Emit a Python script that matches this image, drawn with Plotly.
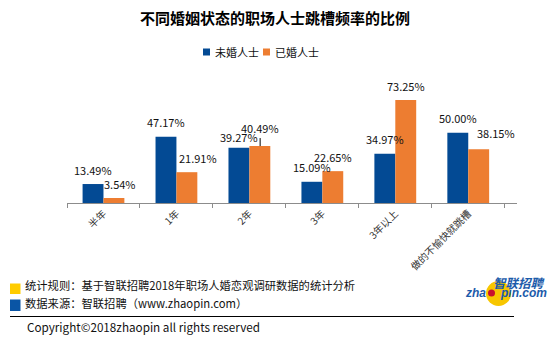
import plotly.graph_objects as go

# Data
categories = ["半年", "1年", "2年", "3年", "3年以上", "做的不愉快就跳槽"]
unmarried = [13.49, 47.17, 39.27, 15.09, 34.97, 50.00]
married = [3.54, 21.91, 40.49, 22.65, 73.25, 38.15]
series_names = ["未婚人士", "已婚人士"]

BLUE = "#034A94"
ORANGE = "#ED7D31"
FONT = "Noto Sans CJK SC"

W, H = 554, 341
L, R, T, B = 67, 517, 80, 203  # plot area in pixels
YMAX = 87.47


def px(x):
    return (x - L) / (R - L)


def py(y):
    return (B - y) / (B - T)


fig = go.Figure()
fig.add_trace(go.Bar(x=categories, y=unmarried, name=series_names[0],
                     marker_color=BLUE, marker_line_width=0))
fig.add_trace(go.Bar(x=categories, y=married, name=series_names[1],
                     marker_color=ORANGE, marker_line_width=0))

annotations = []
shapes = []

# value labels (extra pixel nudges per label: dx, dy)
half = 10.75
nudge_u = [(0, 0), (0, 0), (0, -3.8), (0, 0), (0, 0), (0, 0)]
nudge_m = [(6, 0), (10.5, 0), (0, 3.2), (0, 0), (0, 0), (17, 1.5)]
for i, c in enumerate(categories):
    for vals, sign, nudges in ((unmarried, -1, nudge_u), (married, 1, nudge_m)):
        dx, dy = nudges[i]
        annotations.append(dict(
            x=c, y=vals[i], xref="x", yref="y", text=f"{vals[i]:.2f}%",
            showarrow=False, xanchor="center", yanchor="middle",
            xshift=sign * half + dx, yshift=14.5 + dy,
            font=dict(family=FONT, size=11, color="#111")))

# leader line for the 2年 married label
shapes.append(dict(type="line", xref="x", xsizemode="pixel", xanchor=2,
                   x0=half, x1=half, yref="y", ysizemode="pixel",
                   yanchor=married[2], y0=0, y1=8,
                   line=dict(color="#000", width=1)))

# title
annotations.append(dict(x=px(275), y=py(18), xref="paper", yref="paper",
                        text="<b>不同婚姻状态的职场人士跳槽频率的比例</b>",
                        showarrow=False, xanchor="center", yanchor="middle",
                        font=dict(family=FONT, size=15, color="#000")))

# legend
for sx, col, name in ((203, BLUE, series_names[0]), (263, ORANGE, series_names[1])):
    shapes.append(dict(type="rect", xref="paper", yref="paper",
                       x0=px(sx), x1=px(sx + 7), y0=py(48.5), y1=py(55.5),
                       fillcolor=col, line_width=0))
    annotations.append(dict(x=px(sx + 10), y=py(52), xref="paper", yref="paper",
                            text=name, showarrow=False, xanchor="left",
                            yanchor="middle",
                            font=dict(family=FONT, size=11, color="#111")))

# footer notes
shapes.append(dict(type="rect", xref="paper", yref="paper",
                   x0=px(10), x1=px(20.5), y0=py(283.5), y1=py(294),
                   fillcolor="#FFCC00", line_width=0))
shapes.append(dict(type="rect", xref="paper", yref="paper",
                   x0=px(10), x1=px(20.5), y0=py(299.5), y1=py(311),
                   fillcolor="#0A55A5", line_width=0))
annotations.append(dict(x=px(23), y=py(284.5), xref="paper", yref="paper",
                        text="统计规则：基于智联招聘2018年职场人婚恋观调研数据的统计分析",
                        showarrow=False, xanchor="left", yanchor="middle",
                        font=dict(family=FONT, size=11.3, color="#111")))
annotations.append(dict(x=px(23), y=py(302.5), xref="paper", yref="paper",
                        text="数据来源：智联招聘（www.zhaopin.com）",
                        showarrow=False, xanchor="left", yanchor="middle",
                        font=dict(family=FONT, size=11.3, color="#111")))
shapes.append(dict(type="line", xref="paper", yref="paper",
                   x0=px(10), x1=px(514), y0=py(316.5), y1=py(316.5),
                   line=dict(color="#000", width=1)))
annotations.append(dict(x=px(25), y=py(326), xref="paper", yref="paper",
                        text="Copyright©2018zhaopin all rights reserved",
                        showarrow=False, xanchor="left", yanchor="middle",
                        font=dict(family=FONT, size=11.7, color="#111")))

# logo
shapes.append(dict(type="circle", xref="paper", yref="paper", layer="below",
                   x0=px(486), x1=px(511), y0=py(281), y1=py(306),
                   fillcolor="#F7C600", line_width=0))
shapes.append(dict(type="circle", xref="paper", yref="paper",
                   x0=px(488), x1=px(495), y0=py(289.5), y1=py(296.5),
                   fillcolor="#C8102E", line_width=0))
annotations.append(dict(x=px(548), y=py(282.5), xref="paper", yref="paper",
                        text="<b><i>智联招聘</i></b>", showarrow=False,
                        xanchor="right", yanchor="middle",
                        font=dict(family=FONT, size=12.5, color="#1C5BAA")))
annotations.append(dict(x=px(488), y=py(293), xref="paper", yref="paper",
                        text="<b><i>zha</i></b>", showarrow=False,
                        xanchor="right", yanchor="middle",
                        font=dict(family="Liberation Sans", size=12, color="#1C5BAA")))
annotations.append(dict(x=px(549), y=py(293), xref="paper", yref="paper",
                        text="<b><i>pin.com</i></b>", showarrow=False,
                        xanchor="right", yanchor="middle",
                        font=dict(family="Liberation Sans", size=12, color="#1C5BAA")))

fig.update_layout(
    width=W, height=H,
    margin=dict(l=L, r=W - R, t=T, b=H - B, pad=0),
    paper_bgcolor="white", plot_bgcolor="white",
    barmode="group", bargap=0.427, bargroupgap=0,
    showlegend=False,
    annotations=annotations, shapes=shapes,
    xaxis=dict(showline=True, linecolor="#8c8c8c", linewidth=1,
               ticks="outside", ticklen=4, tickcolor="#8c8c8c",
               tickson="boundaries", tickangle=-45,
               tickfont=dict(family=FONT, size=10, color="#333"),
               showgrid=False, zeroline=False, fixedrange=True),
    yaxis=dict(visible=False, range=[0, YMAX], showgrid=False, zeroline=False),
)

fig.write_html("out.html")
